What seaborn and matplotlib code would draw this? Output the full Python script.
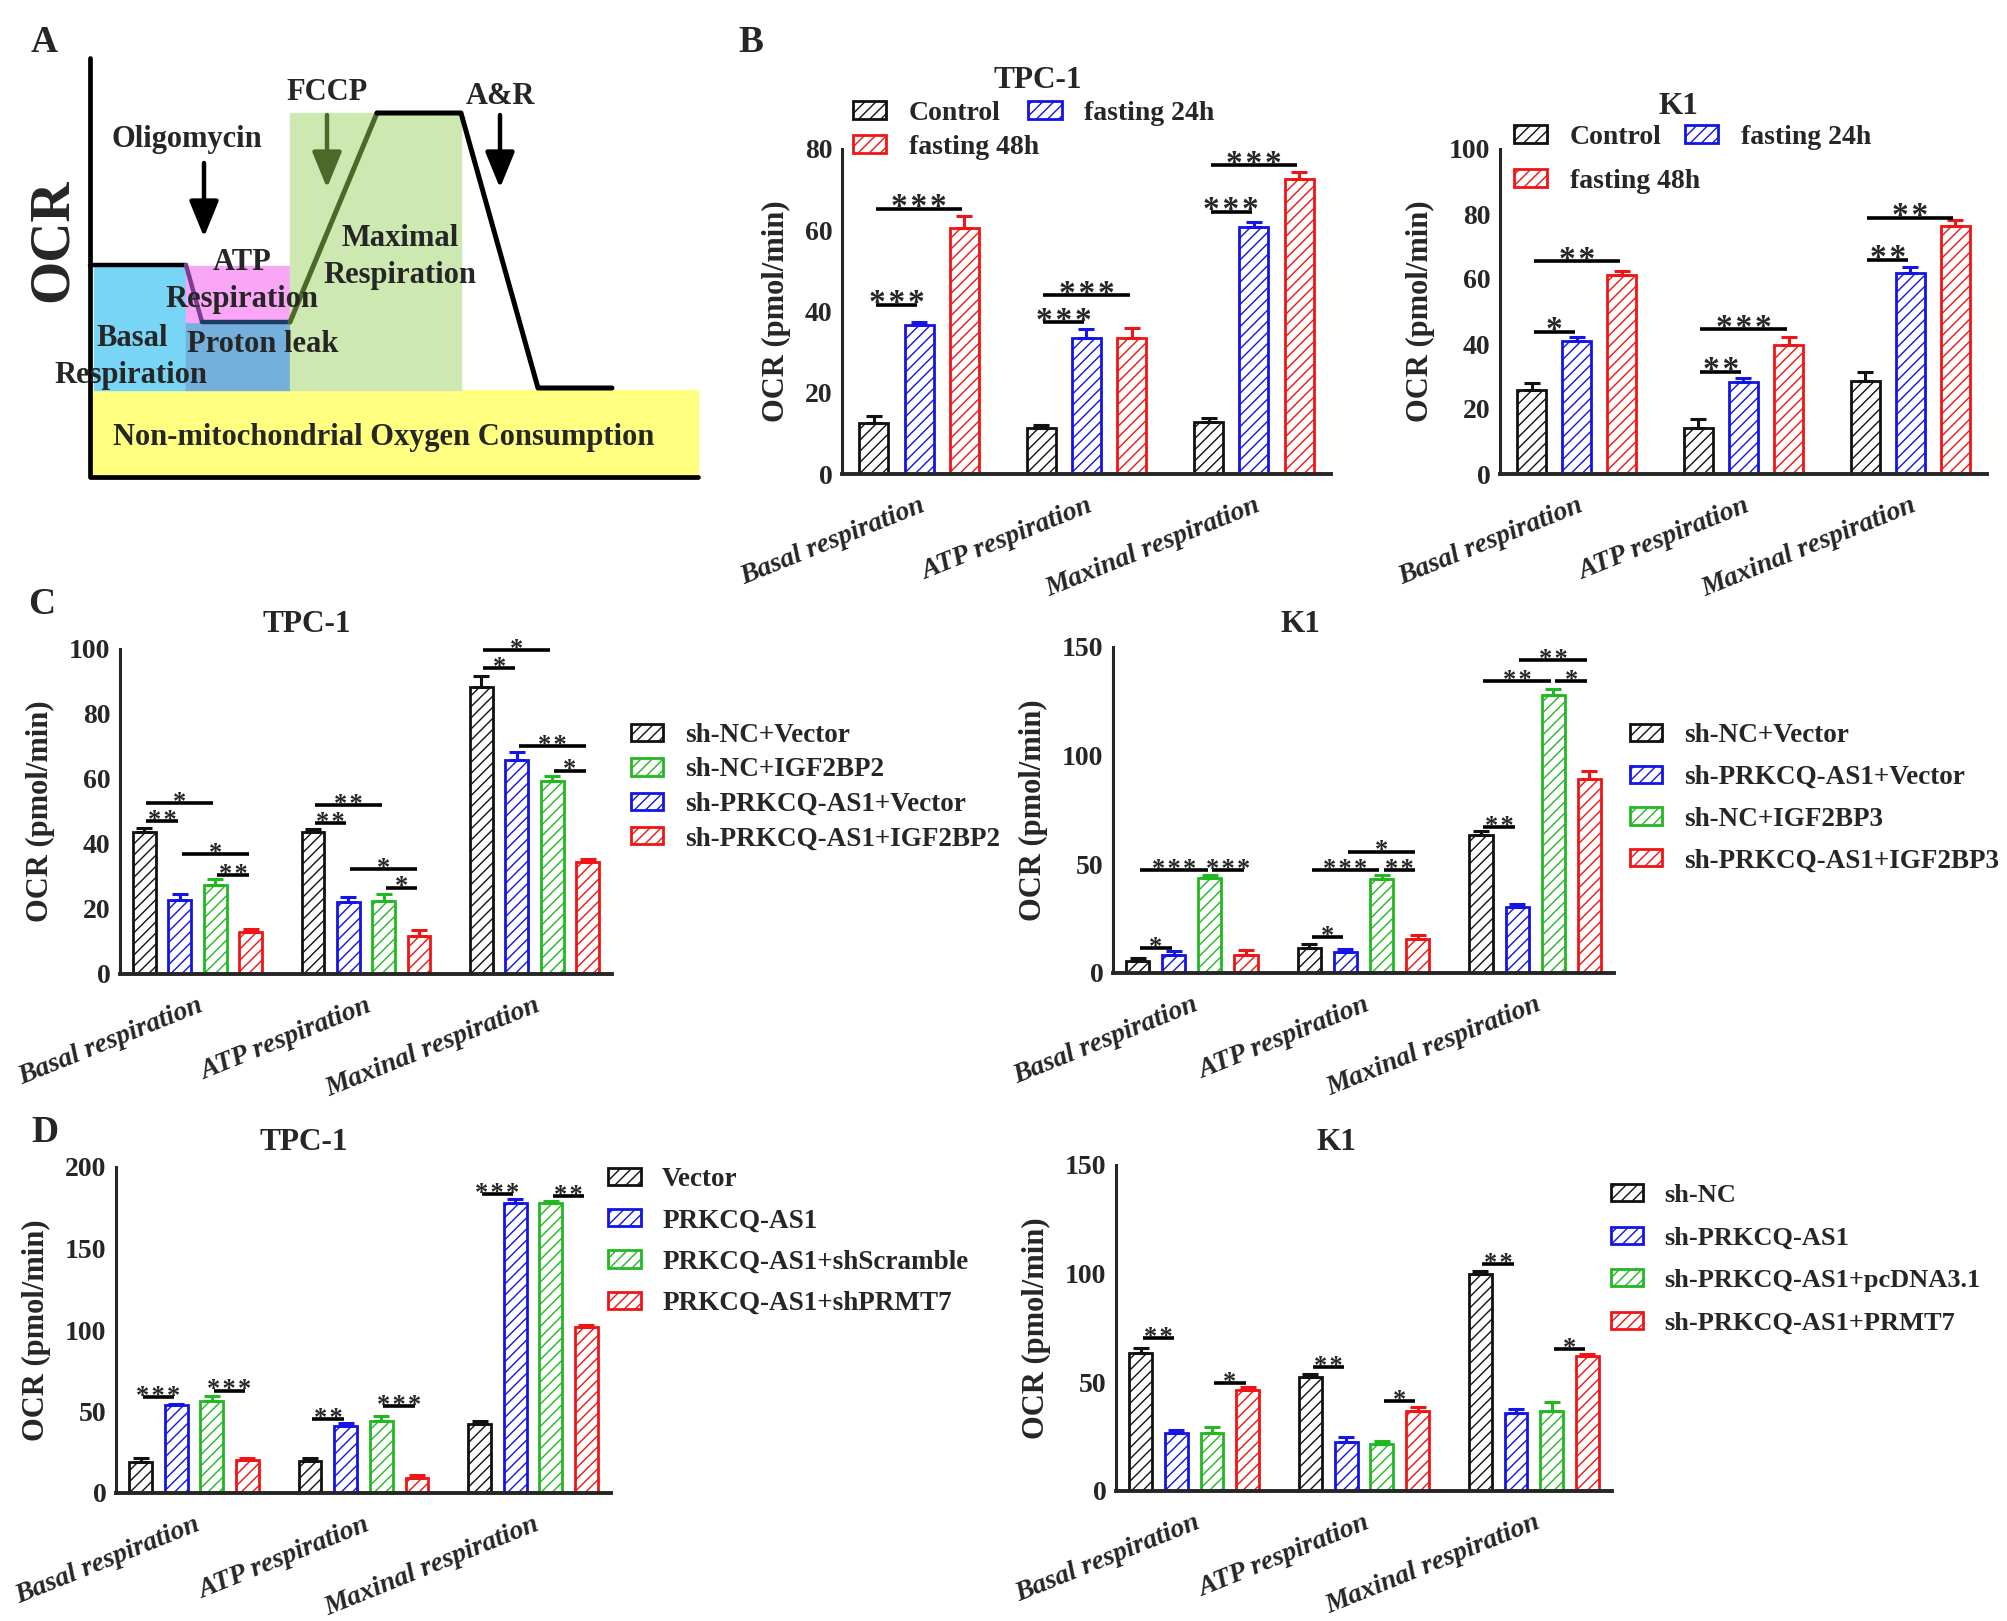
import matplotlib
matplotlib.use('Agg')
import matplotlib.pyplot as plt
from matplotlib.patches import Rectangle, Patch
import numpy as np
import pandas as pd
import seaborn as sns

sns.set_style('white')
plt.rcParams['font.family'] = ['Liberation Serif', 'DejaVu Serif']
plt.rcParams['font.weight'] = 'bold'
plt.rcParams['axes.labelweight'] = 'bold'
plt.rcParams['hatch.linewidth'] = 1.0

W, H = 2008, 1621

# ---------------- data ----------------
cats = ['Basal respiration', 'ATP respiration', 'Maxinal respiration']
pal4 = ['#111111', '#1414e6', '#22b822', '#f01414']
pal_b = ['#111111', '#1414e6', '#f01414']

# panel B (values per group, per category)
b_groups = ['Control', 'fasting 24h', 'fasting 48h']
b_tpc_mean = [[12.5, 11.4, 12.8], [36.7, 33.6, 60.9], [60.6, 33.6, 72.7]]
b_tpc_err = [[1.9, 0.6, 1.1], [0.7, 2.1, 1.2], [3.0, 2.4, 1.6]]
b_tpc_sig = [(0, 0, 1, 41.6, '***'), (0, 0, 2, 65.3, '***'),
             (1, 0, 1, 37.3, '***'), (1, 0, 2, 44.0, '***'),
             (2, 0, 1, 64.5, '***'), (2, 0, 2, 76.0, '***')]
b_k1_mean = [[25.7, 14.2, 28.7], [40.8, 28.4, 61.8], [61.1, 39.7, 76.3]]
b_k1_err = [[2.3, 2.6, 2.8], [1.5, 1.1, 1.8], [1.3, 2.5, 1.8]]
b_k1_sig = [(0, 0, 1, 43.8, '*'), (0, 0, 2, 65.4, '**'),
            (1, 0, 1, 31.5, '**'), (1, 0, 2, 44.5, '***'),
            (2, 0, 1, 65.8, '**'), (2, 0, 2, 78.9, '**')]

# panel C (bar order: black, blue, green, red)
c_tpc_groups = ['sh-NC+Vector', 'sh-PRKCQ-AS1+Vector', 'sh-NC+IGF2BP2', 'sh-PRKCQ-AS1+IGF2BP2']
c_tpc_mean = [[43.7, 43.7, 88.3], [22.9, 22.3, 65.7], [27.5, 22.4, 59.4], [12.9, 11.8, 34.5]]
c_tpc_err = [[1.2, 0.9, 3.5], [1.7, 1.3, 2.5], [1.7, 2.3, 1.6], [0.9, 1.6, 0.9]]
c_tpc_sig = [(0, 0, 1, 47.0, '**'), (0, 0, 2, 52.6, '*'), (0, 1, 3, 37.0, '*'), (0, 2, 3, 30.5, '**'),
             (1, 0, 1, 46.5, '**'), (1, 0, 2, 52.0, '**'), (1, 1, 3, 32.3, '*'), (1, 2, 3, 26.6, '*'),
             (2, 0, 1, 94.0, '*'), (2, 0, 2, 99.6, '*'), (2, 1, 3, 70.0, '**'), (2, 2, 3, 62.6, '*')]
c_k1_groups = ['sh-NC+Vector', 'sh-PRKCQ-AS1+Vector', 'sh-NC+IGF2BP3', 'sh-PRKCQ-AS1+IGF2BP3']
c_k1_mean = [[5.4, 11.6, 63.5], [8.1, 9.8, 30.5], [43.9, 43.2, 127.8], [8.4, 15.8, 89.2]]
c_k1_err = [[1.3, 1.7, 1.9], [1.8, 1.2, 1.3], [1.1, 2.0, 2.8], [2.0, 1.5, 3.7]]
c_k1_sig = [(0, 0, 1, 11.6, '*'), (0, 0, 2, 47.5, '***'), (0, 2, 3, 47.5, '***'),
            (1, 0, 1, 16.4, '*'), (1, 0, 2, 47.5, '***'), (1, 2, 3, 47.5, '**'), (1, 1, 3, 55.9, '*'),
            (2, 0, 1, 67.0, '**'), (2, 0, 2, 134.2, '**'), (2, 2, 3, 134.2, '*'), (2, 1, 3, 143.9, '**')]

# panel D
d_tpc_groups = ['Vector', 'PRKCQ-AS1', 'PRKCQ-AS1+shScramble', 'PRKCQ-AS1+shPRMT7']
d_tpc_mean = [[18.8, 19.4, 42.2], [53.8, 41.4, 178.1], [56.7, 44.4, 177.9], [20.0, 9.4, 101.9]]
d_tpc_err = [[2.7, 2.1, 1.8], [0.9, 1.6, 2.0], [2.9, 2.9, 1.2], [1.5, 1.9, 0.9]]
d_tpc_sig = [(0, 0, 1, 58.8, '***'), (0, 2, 3, 62.8, '***'), (1, 0, 1, 45.2, '**'),
             (1, 2, 3, 53.2, '***'), (2, 0, 1, 183.2, '***'), (2, 2, 3, 182.2, '**')]
d_k1_groups = ['sh-NC', 'sh-PRKCQ-AS1', 'sh-PRKCQ-AS1+pcDNA3.1', 'sh-PRKCQ-AS1+PRMT7']
d_k1_mean = [[63.5, 52.3, 100.0], [26.5, 22.6, 35.7], [26.9, 21.5, 36.9], [46.5, 36.6, 62.3]]
d_k1_err = [[2.2, 1.5, 1.2], [1.5, 2.3, 2.0], [2.6, 1.5, 3.9], [1.5, 2.2, 0.8]]
d_k1_sig = [(0, 0, 1, 70.3, '**'), (0, 2, 3, 49.8, '*'), (1, 0, 1, 56.9, '**'),
            (1, 2, 3, 41.2, '*'), (2, 0, 1, 104.3, '**'), (2, 2, 3, 65.4, '*')]

HATCH = '///'

fig = plt.figure(figsize=(W / 100, H / 100), dpi=100)


def fx(x):
    return x / W


def fy(y):
    return 1 - y / H


def bar_panel(box, groups, colors, means, errs, sigs, ymax, ystep, title, title_xy,
              legends, leg_fs=19.5, width=0.84, gap=0.36, star_fs=19):
    l, t, r, b = box
    ax = fig.add_axes([fx(l), fy(b), fx(r - l), (b - t) / H])
    rows = []
    for gi, g in enumerate(groups):
        for ci, c in enumerate(cats):
            rows.append({'cat': c, 'grp': g, 'val': means[gi][ci]})
    df = pd.DataFrame(rows)
    sns.barplot(data=df, x='cat', y='val', hue='grp', order=cats, hue_order=groups,
                palette=colors, width=width, gap=gap, errorbar=None, legend=False, ax=ax)
    centers = {}
    for gi, (cont, col) in enumerate(zip(ax.containers, colors)):
        bars = sorted(cont.patches, key=lambda p: p.get_x())
        xs, ys = [], []
        for ci, p in enumerate(bars):
            p.set_facecolor('white')
            p.set_edgecolor(col)
            p.set_hatch(HATCH)
            if hasattr(p, 'set_hatchcolor'):
                p.set_hatchcolor(col)
            p.set_linewidth(2.0)
            xc = p.get_x() + p.get_width() / 2
            centers[(gi, ci)] = xc
            xs.append(xc)
            ys.append(p.get_height())
        ax.errorbar(xs, ys, yerr=[np.zeros(len(xs)), errs[gi]], fmt='none', ecolor=col,
                    elinewidth=2.2, capsize=6, capthick=2.2, zorder=1)
    for ci, g1, g2, y, lab in sigs:
        x1, x2 = centers[(g1, ci)], centers[(g2, ci)]
        ax.plot([x1 + 0.012, x2 - 0.012], [y, y], color='black', lw=2.6,
                solid_capstyle='butt', clip_on=False)
        ax.annotate('\u200a'.join(lab), xy=((x1 + x2) / 2, y), xytext=(0, -star_fs * 0.22),
                    textcoords='offset points', ha='center', va='baseline',
                    fontsize=star_fs, annotation_clip=False)
    ax.set_xlim(-0.46, 2.46)
    ax.set_ylim(0, ymax)
    ax.set_yticks(np.arange(0, ymax + 1, ystep))
    ax.set_xlabel('')
    ax.set_ylabel('OCR (pmol/min)', fontsize=22, fontweight='bold', labelpad=10)
    for s in ['top', 'right']:
        ax.spines[s].set_visible(False)
    ax.spines['left'].set_linewidth(2.2)
    ax.spines['bottom'].set_linewidth(2.8)
    ax.tick_params(axis='y', length=6, width=2.2, labelsize=20, pad=1, color='black')
    ax.tick_params(axis='x', length=10, width=2.2, pad=4, color='black')
    ax.set_xticks(range(len(cats)))
    ax.set_xticklabels(cats, rotation=22, ha='right', rotation_mode='anchor',
                       fontsize=20, fontstyle='italic', fontweight='bold')
    fig.text(fx(title_xy[0]), fy(title_xy[1]), title, ha='center', va='center',
             fontsize=22.5, fontweight='bold')
    # legends: list of (group indices, ncol, top-left px, labelspacing, columnspacing)
    for k, (idx, ncol, (lx, ly), lsp, csp) in enumerate(legends):
        handles = [Patch(facecolor='white', edgecolor=colors[i], hatch=HATCH, linewidth=2.0,
                         label=groups[i]) for i in idx]
        leg = ax.legend(handles=handles, loc='upper left', bbox_to_anchor=(fx(lx), fy(ly)),
                        bbox_transform=fig.transFigure, frameon=False, ncol=ncol, fontsize=leg_fs,
                        handlelength=1.2, handleheight=0.6, handletextpad=0.8, labelspacing=lsp,
                        columnspacing=csp, borderpad=0, borderaxespad=0)
        for txt in leg.get_texts():
            txt.set_fontweight('bold')
        if k < len(legends) - 1:
            ax.add_artist(leg)
    return ax


# ---------------- panel A: schematic ----------------
ax0 = fig.add_axes([0, 0, 1, 1])
ax0.set_xlim(0, W)
ax0.set_ylim(H, 0)
ax0.axis('off')
ax0.add_patch(Rectangle((90, 390), 608, 87, color='#ffff80', zorder=1))
ax0.add_patch(Rectangle((94, 267), 92, 123, color='#79d5f5', zorder=1))
ax0.add_patch(Rectangle((186, 322), 104, 68, color='#74b0db', zorder=1))
ax0.add_patch(Rectangle((186, 266), 104, 56, color='#f9a6f7', zorder=1))
ax0.add_patch(Rectangle((290, 113), 171, 277, color='#cde8b0', zorder=1))
ax0.plot([90, 186], [265, 265], color='black', lw=3.2, zorder=2)
ax0.plot([186, 202], [265, 322], color='#7b3d8f', lw=3.2, zorder=2)
ax0.plot([202, 290], [322, 322], color='#1d3a64', lw=3.2, zorder=2)
ax0.plot([290, 377], [322, 113], color='#4b6a2a', lw=3.6, zorder=2)
ax0.plot([377, 461, 538, 612], [113, 113, 388, 388], color='black', lw=3.6, zorder=2)
ax0.plot([90, 90, 698], [58, 477, 477], color='black', lw=3.4, zorder=3)
for xa, ca in [(204, 'black'), (327, '#4b6a2a'), (500, 'black')]:
    y0 = 163 if xa == 204 else 115
    y1 = 237 if xa == 204 else 188
    ax0.annotate('', xy=(xa, y1), xytext=(xa, y0),
                 arrowprops=dict(arrowstyle='-|>,head_width=0.45,head_length=1.1', lw=3.2,
                                 color=ca, shrinkA=0, shrinkB=0, mutation_scale=20), zorder=3)
a_texts = [('Oligomycin', 187, 139), ('FCCP', 327, 92), ('A&R', 501, 96),
           ('Maximal', 400, 239), ('Respiration', 400, 275), ('ATP', 242, 263),
           ('Respiration', 242, 300), ('Basal', 132, 338), ('Respiration', 131, 375),
           ('Proton leak', 263, 345), ('Non-mitochondrial Oxygen Consumption', 384, 438)]
for s, x, y in a_texts:
    ax0.text(x, y, s, ha='center', va='center', fontsize=22, fontweight='bold', zorder=4)
ax0.text(53, 240, 'OCR', rotation=90, ha='center', va='center', fontsize=40, fontweight='bold')

for s, x, y in [('A', 44, 42), ('B', 751, 42), ('C', 42, 605), ('D', 45, 1132)]:
    ax0.text(x, y, s, ha='center', va='center', fontsize=27, fontweight='bold')

# ---------------- panels B-D ----------------
bar_panel((842, 149, 1331, 474), b_groups, pal_b, b_tpc_mean, b_tpc_err, b_tpc_sig, 80, 20,
          'TPC-1', (1038, 81), [([0, 1], 2, (853, 101), 0.3, 1.0), ([2], 1, (853, 135), 0.3, 1.0)],
          leg_fs=20, width=0.81, star_fs=24)
bar_panel((1500, 149, 1987, 474), b_groups, pal_b, b_k1_mean, b_k1_err, b_k1_sig, 100, 20,
          'K1', (1678, 106), [([0, 1], 2, (1514, 125), 0.3, 0.85), ([2], 1, (1514, 169), 0.3, 0.85)],
          leg_fs=20, width=0.81, star_fs=24)
bar_panel((120, 649, 612, 974), c_tpc_groups, pal4, c_tpc_mean, c_tpc_err, c_tpc_sig, 100, 20,
          'TPC-1', (307, 625), [([0, 2, 1, 3], 1, (631, 723), 0.35, 1.0)])
bar_panel((1113, 647, 1614, 973), c_k1_groups, pal4, c_k1_mean, c_k1_err, c_k1_sig, 150, 50,
          'K1', (1300, 625), [([0, 1, 2, 3], 1, (1630, 723), 0.62, 1.0)])
bar_panel((116, 1167, 611, 1493), d_tpc_groups, pal4, d_tpc_mean, d_tpc_err, d_tpc_sig, 200, 50,
          'TPC-1', (304, 1142), [([0, 1, 2, 3], 1, (608, 1167), 0.6, 1.0)])
bar_panel((1116, 1165, 1612, 1491), d_k1_groups, pal4, d_k1_mean, d_k1_err, d_k1_sig, 150, 50,
          'K1', (1336, 1143), [([0, 1, 2, 3], 1, (1611, 1184), 0.74, 1.0)], leg_fs=19)

fig.savefig('out.png', dpi=100)
